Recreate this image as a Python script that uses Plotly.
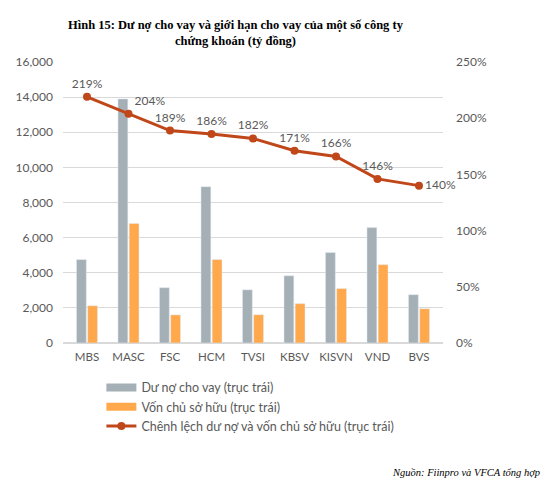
import plotly.graph_objects as go

categories = ["MBS", "MASC", "FSC", "HCM", "TVSI", "KBSV", "KISVN", "VND", "BVS"]
du_no = [4750, 13900, 3150, 8900, 3030, 3830, 5150, 6570, 2750]
von_csh = [2120, 6800, 1600, 4750, 1610, 2240, 3100, 4460, 1950]
chenh_lech = [2.19, 2.04, 1.89, 1.86, 1.82, 1.71, 1.66, 1.46, 1.40]
pct_labels = ["219%", "204%", "189%", "186%", "182%", "171%", "166%", "146%", "140%"]
left_ticks = [0, 2000, 4000, 6000, 8000, 10000, 12000, 14000, 16000]
right_ticks = [0, 0.5, 1.0, 1.5, 2.0, 2.5]
series_names = ["Dư nợ cho vay (trục trái)", "Vốn chủ sở hữu (trục trái)",
                "Chênh lệch dư nợ và vốn chủ sở hữu (trục trái)"]

label_pos = ["top center", "top right", "top center", "top center", "top center",
             "top center", "top center", "top center", "middle right"]

GRAY_TXT = "#595959"
C_GRAY, C_ORANGE, C_LINE = "#A5B0B6", "#FFA84C", "#C0471A"
FONT = "Lato"

fig = go.Figure()
fig.add_trace(go.Bar(x=categories, y=du_no, name=series_names[0],
                     marker_color=C_GRAY, showlegend=False))
fig.add_trace(go.Bar(x=categories, y=von_csh, name=series_names[1],
                     marker_color=C_ORANGE, showlegend=False))
# legend proxies drawn as wide rectangles, like the reference legend keys
fig.add_trace(go.Scatter(x=[None], y=[None], mode="lines", name=series_names[0],
                         line=dict(color=C_GRAY, width=8)))
fig.add_trace(go.Scatter(x=[None], y=[None], mode="lines", name=series_names[1],
                         line=dict(color=C_ORANGE, width=8)))
fig.add_trace(go.Scatter(x=categories, y=chenh_lech, yaxis="y2", mode="lines+markers+text",
                         name=series_names[2],
                         line=dict(color=C_LINE, width=3),
                         marker=dict(color=C_LINE, size=8),
                         text=pct_labels, textposition=label_pos,
                         textfont=dict(color=GRAY_TXT, size=12, family=FONT),
                         cliponaxis=False))

fig.update_layout(
    width=556, height=500,
    paper_bgcolor="white", plot_bgcolor="white",
    margin=dict(l=55, r=121, t=54, b=165),
    barmode="group", bargap=0.46, bargroupgap=0.12,
    font=dict(family=FONT, color=GRAY_TXT, size=12),
    xaxis=dict(showgrid=False, showline=False, ticks="", ticklabelstandoff=5,
               tickfont=dict(size=11.5, color=GRAY_TXT)),
    yaxis=dict(range=[0, 16000], tickvals=left_ticks, tickformat=",d",
               showgrid=True, gridcolor="#D9D9D9", gridwidth=1, zeroline=True,
               zerolinecolor="#D9D9D9", tickfont=dict(size=12, color=GRAY_TXT), ticklabelstandoff=9,
               automargin=False),
    yaxis2=dict(range=[0, 2.5], tickvals=right_ticks, tickformat=".0%", overlaying="y",
                side="right", showgrid=False, zeroline=False, automargin=False,
                tickfont=dict(size=12, color=GRAY_TXT), ticklabelstandoff=12),
    legend=dict(orientation="v", x=0.101, xanchor="left", y=-0.106, yanchor="top",
                font=dict(size=12.5, color=GRAY_TXT), tracegroupgap=4, itemwidth=30,
                bgcolor="rgba(0,0,0,0)"),
    showlegend=True,
    annotations=[
        dict(text="<b>Hình 15: Dư nợ cho vay và giới hạn cho vay của một số công ty<br>chứng khoán (tỷ đồng)</b>",
             xref="paper", yref="paper", x=(236 - 63) / 380, y=1, xanchor="center", yanchor="bottom",
             yshift=12, showarrow=False, align="center",
             font=dict(family="Liberation Serif", size=12.5, color="black")),
        dict(text="<i>Nguồn: Fiinpro và VFCA tổng hợp</i>", xref="paper", yref="paper",
             x=(542 - 63) / 380, y=-(472 - 343) / 281, xanchor="right", yanchor="middle",
             showarrow=False, font=dict(family="Liberation Serif", size=10.5, color="black")),
    ],
)

fig.write_html("out.html")
